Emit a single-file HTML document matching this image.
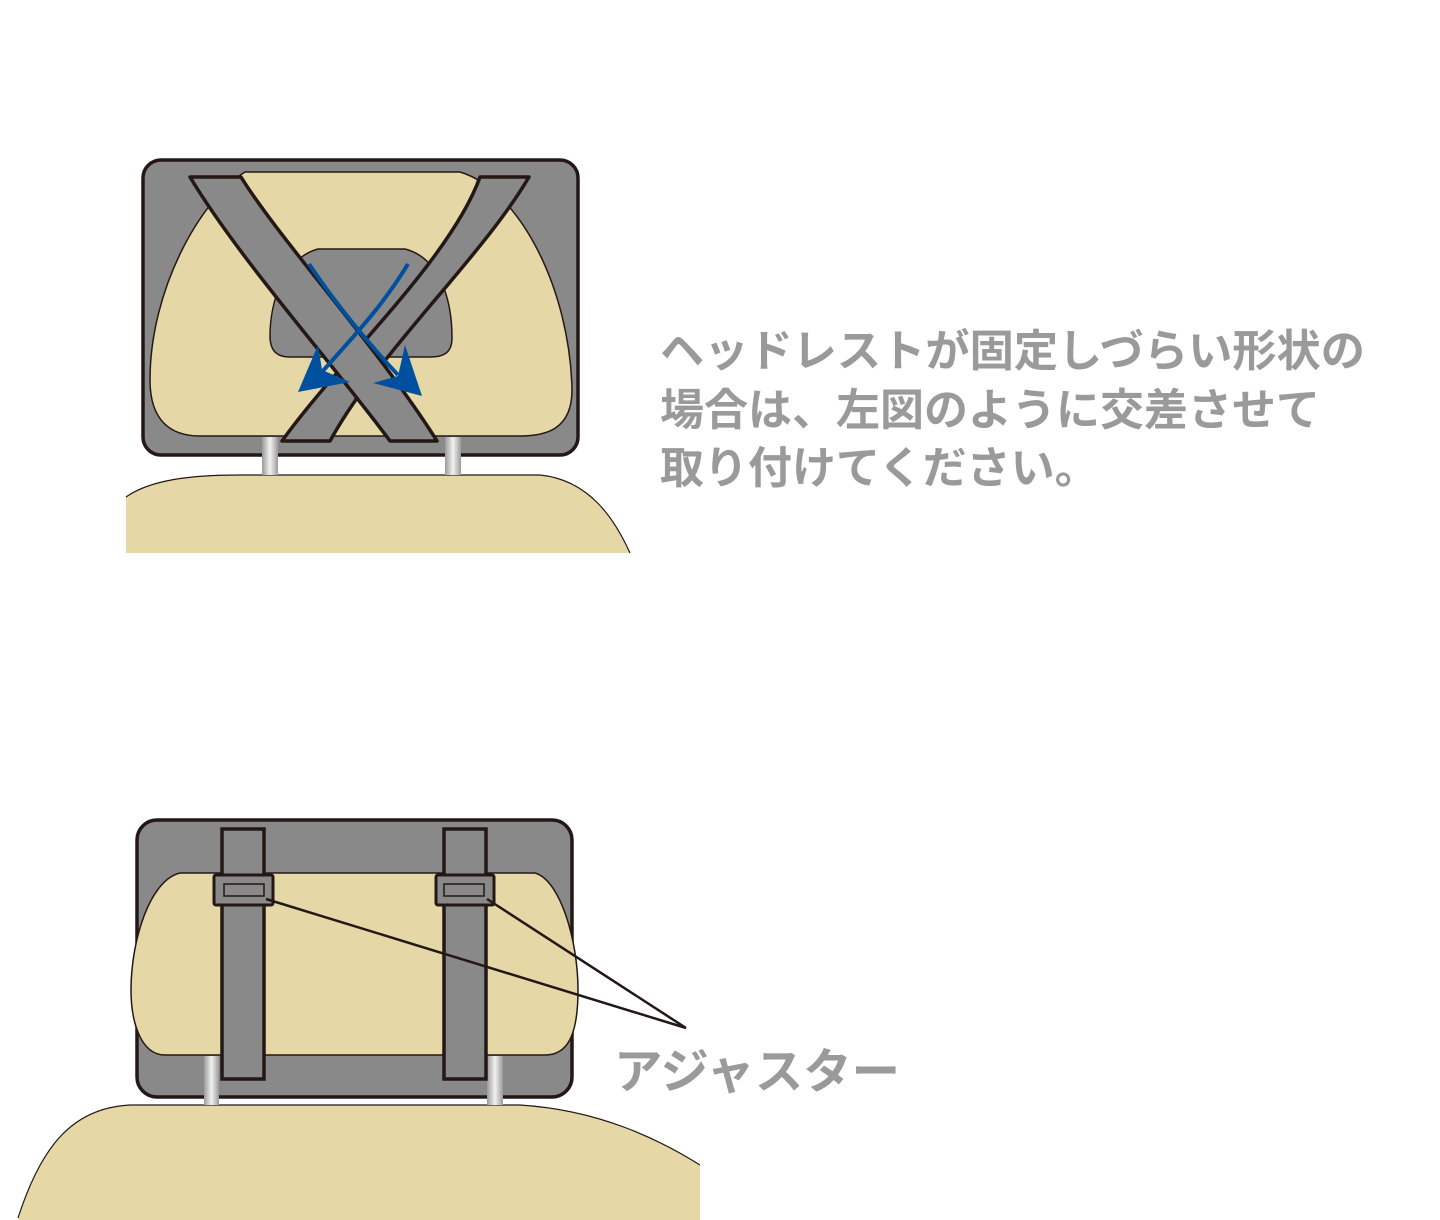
<!DOCTYPE html>
<html><head><meta charset="utf-8"><style>
body{margin:0;background:#fff;width:1440px;height:1220px;overflow:hidden}
svg{position:absolute;left:0;top:0}
text{font-family:"Liberation Sans","Noto Sans CJK JP",sans-serif;font-weight:bold;fill:#9a9a9a}
</style></head><body>
<svg width="1440" height="1220" viewBox="0 0 1440 1220">
<defs>
<linearGradient id="pg" x1="0" x2="1" y1="0" y2="0">
<stop offset="0" stop-color="#9a9a9a"/><stop offset="0.5" stop-color="#f2f2f2"/><stop offset="1" stop-color="#9a9a9a"/></linearGradient>
</defs>
<!-- TOP -->
<path d="M126,553 L126,497 C150,480 190,475 240,475 L540,475 C590,480 615,520 630,553 Z" fill="#e6d8a6"/>
<path d="M126,497 C150,480 190,475 240,475 L540,475 C590,480 615,520 630,553" fill="none" stroke="#231815" stroke-width="1.2"/>
<rect x="143" y="160" width="435" height="295" rx="18" fill="#898989" stroke="#231815" stroke-width="3.5"/>
<path d="M245,172 L460,172 C520,190 570,290 572,390 C572,430 545,436 520,436 L200,436 C170,436 150,420 150,380 C150,290 200,200 245,172 Z" fill="#e6d8a6" stroke="#231815" stroke-width="1.5"/>
<rect x="262" y="437" width="16" height="38" fill="url(#pg)"/>
<rect x="445" y="437" width="16" height="38" fill="url(#pg)"/>
<path d="M318,249 L405,249 C440,258 452,300 452,338 C452,354 442,357 430,357 L290,357 C276,357 270,350 270,336 C270,300 285,258 318,249 Z" fill="#898989" stroke="#231815" stroke-width="1.5"/>
<path d="M480,177 L529,177 C480,260 380,350 330,441 L282,441 C340,360 450,260 480,177 Z" fill="#898989" stroke="#231815" stroke-width="3.5" stroke-linejoin="round"/>
<path d="M190,177 L241,177 C280,240 380,350 437,441 L390,441 C330,360 240,260 190,177 Z" fill="#898989" stroke="#231815" stroke-width="3.5" stroke-linejoin="round"/>
<g stroke="#0050a0" stroke-width="4" fill="none">
<path d="M408,264 C380,310 350,340 322,372"/>
<path d="M309,264 C340,310 370,345 398,375"/>
</g>
<polygon points="298,392 318,345 322,370 350,382" fill="#0050a0"/>
<polygon points="422,396 373,383 398,376 405,345" fill="#0050a0"/>
<text x="660" y="366" font-size="44" textLength="705" lengthAdjust="spacingAndGlyphs">ヘッドレストが固定しづらい形状の</text>
<text x="660" y="425" font-size="44">場合は、左図のように交差させて</text>
<text x="660" y="483" font-size="44">取り付けてください。</text>
<!-- BOTTOM -->
<path d="M18,1220 C40,1150 70,1108 130,1105 L520,1105 C600,1110 660,1140 700,1165 L700,1220 Z" fill="#e6d8a6"/>
<path d="M18,1218 C40,1150 70,1108 130,1105 L520,1105 C600,1110 660,1140 700,1165" fill="none" stroke="#231815" stroke-width="1.2"/>
<rect x="137" y="820" width="435" height="277" rx="20" fill="#898989" stroke="#231815" stroke-width="3.5"/>
<path d="M180,873 L535,873 C560,880 578,940 578,990 C578,1040 565,1055 545,1055 L165,1055 C140,1055 131,1020 131,990 C131,940 150,880 180,873 Z" fill="#e6d8a6" stroke="#231815" stroke-width="1.5"/>
<rect x="204" y="1056" width="15" height="49" fill="url(#pg)"/>
<rect x="487" y="1056" width="16" height="49" fill="url(#pg)"/>
<rect x="222" y="829" width="42" height="250" fill="#898989" stroke="#231815" stroke-width="3.5"/>
<rect x="444" y="829" width="42" height="250" fill="#898989" stroke="#231815" stroke-width="3.5"/>
<rect x="214" y="875" width="59" height="30" rx="2" fill="#898989" stroke="#231815" stroke-width="3"/>
<rect x="224" y="884" width="40" height="12" fill="#898989" stroke="#231815" stroke-width="1.5"/>
<rect x="436" y="875" width="58" height="30" rx="2" fill="#898989" stroke="#231815" stroke-width="3"/>
<rect x="444" y="884" width="40" height="12" fill="#898989" stroke="#231815" stroke-width="1.5"/>
<g stroke="#231815" stroke-width="2.5">
<line x1="266" y1="899" x2="686" y2="1028"/>
<line x1="487" y1="899" x2="686" y2="1028"/>
</g>
<text x="614" y="1088" font-size="48" textLength="286" lengthAdjust="spacingAndGlyphs">アジャスター</text>
</svg>
</body></html>
